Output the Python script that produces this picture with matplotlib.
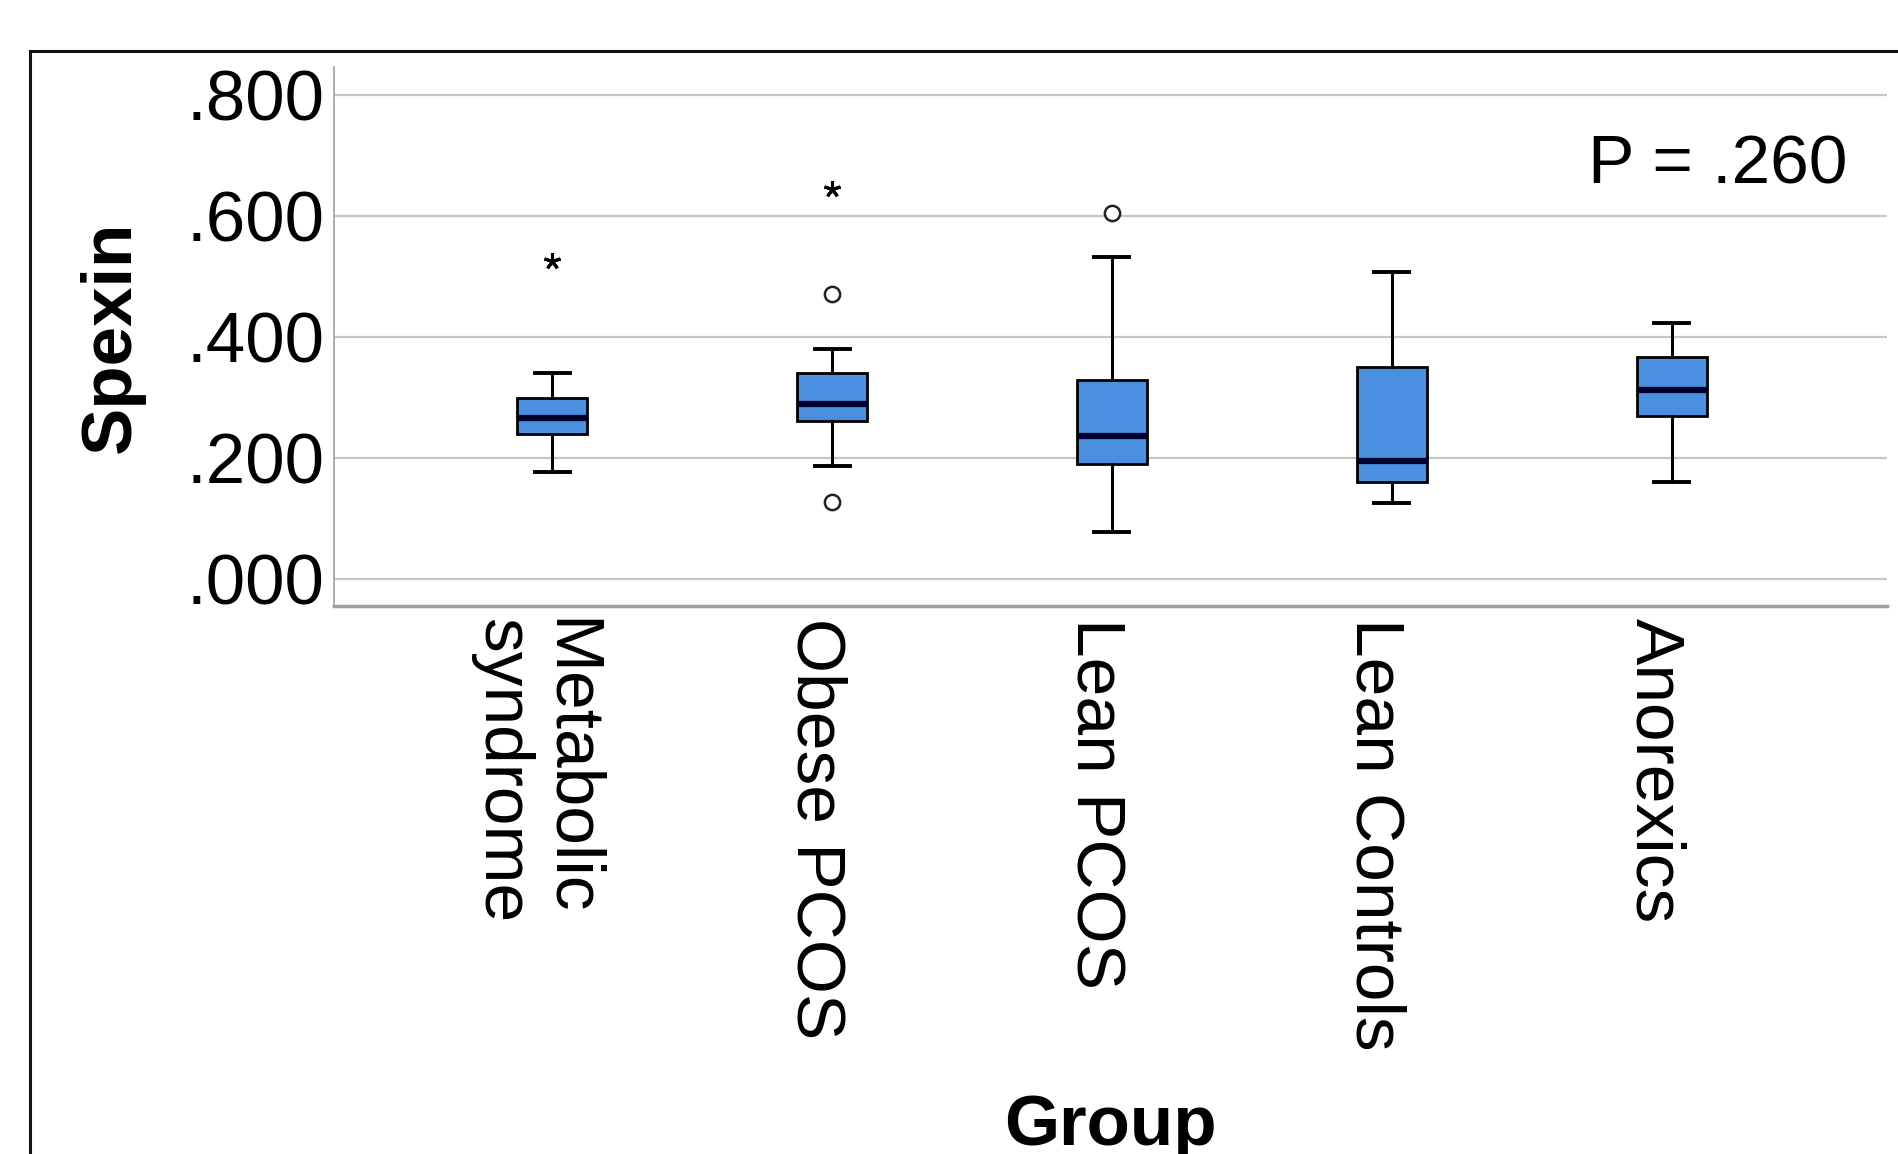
import matplotlib
matplotlib.use('Agg')
import matplotlib.pyplot as plt
import matplotlib.transforms as mtransforms
from matplotlib.patches import Rectangle
import numpy as np

# Box statistics
groups = ['Metabolic\nsyndrome', 'Obese PCOS', 'Lean PCOS', 'Lean Controls', 'Anorexics']
whisker_low = [0.177, 0.187, 0.078, 0.126, 0.160]
q1 = [0.240, 0.262, 0.190, 0.161, 0.269]
median = [0.266, 0.289, 0.237, 0.196, 0.312]
q3 = [0.299, 0.340, 0.329, 0.351, 0.367]
whisker_high = [0.340, 0.380, 0.533, 0.507, 0.423]

# outliers (circles) and extremes (stars): group index (1-based), value
outlier_group = [2, 2, 3]
outlier_value = [0.471, 0.128, 0.605]
extreme_group = [1, 2]
extreme_value = [0.525, 0.644]

y_ticks = [0.0, 0.2, 0.4, 0.6, 0.8]
p_text = 'P = .260'

plt.rcParams['font.family'] = ['Liberation Sans', 'DejaVu Sans']

fig = plt.figure(figsize=(18.99, 11.54), dpi=100)
ax = fig.add_axes([0.1759, 0.4749, 0.8178, 0.4670])

stats = []
for i in range(len(groups)):
    stats.append({'whislo': whisker_low[i], 'q1': q1[i], 'med': median[i],
                  'q3': q3[i], 'whishi': whisker_high[i], 'fliers': []})

positions = np.arange(1, len(groups) + 1)
ax.bxp(stats, positions=positions, widths=0.25, patch_artist=True,
       showfliers=False,
       boxprops=dict(facecolor='#4a8fe0', edgecolor='black', linewidth=2),
       medianprops=dict(color='#00002e', linewidth=4.5),
       whiskerprops=dict(color='black', linewidth=2.2),
       capprops=dict(color='black', linewidth=2.8))

ax.plot(outlier_group, outlier_value, linestyle='none', marker='o',
        markersize=11, markerfacecolor='white', markeredgecolor='#222222',
        markeredgewidth=1.8, zorder=4)
ax.plot(extreme_group, extreme_value, linestyle='none', marker=(5, 2, 0),
        markersize=12, color='black', markeredgewidth=2.2, zorder=4)

ax.set_xlim(0.22, 5.77)
ax.set_ylim(-0.044, 0.846)
ax.set_yticks(y_ticks)
ax.set_yticklabels([('%.3f' % v).lstrip('0') for v in y_ticks], fontsize=51)
ax.set_xticks(positions)
ax.set_xticklabels(groups, fontsize=50, rotation=270, va='top', ha='center',
                   multialignment='left', linespacing=1.07)
ax.tick_params(axis='both', length=0)
ax.tick_params(axis='y', pad=7)
ax.tick_params(axis='x', pad=9)

# category labels sit slightly left of the boxes in the original
shift = mtransforms.ScaledTranslation(-0.17, 0, fig.dpi_scale_trans)
for lbl in ax.get_xticklabels():
    lbl.set_transform(lbl.get_transform() + shift)

ax.grid(axis='y', color='#c6c6c6', linewidth=1.6)
ax.set_axisbelow(True)
for s in ['top', 'right']:
    ax.spines[s].set_visible(False)
ax.spines['left'].set_color('#a0a0a0')
ax.spines['left'].set_linewidth(1.2)
ax.spines['bottom'].set_color('#a0a0a0')
ax.spines['bottom'].set_linewidth(2.5)

ax.set_ylabel('Spexin', fontsize=51, fontweight='bold')
ax.yaxis.set_label_coords(-0.122, 0.5)
ax.set_xlabel('Group', fontsize=51, fontweight='bold')
ax.xaxis.set_label_coords(0.5, -0.905)

ax.text(5.63, 0.683, p_text, fontsize=50, ha='right', va='center')

# outer frame of the SPSS chart
fig.patches.append(Rectangle((30 / 1899, -0.2), 1.2, 0.2 + (1154 - 51) / 1154,
                             transform=fig.transFigure, fill=False,
                             edgecolor='#111111', linewidth=2.2, clip_on=False))

fig.savefig('out.png', dpi=100)
